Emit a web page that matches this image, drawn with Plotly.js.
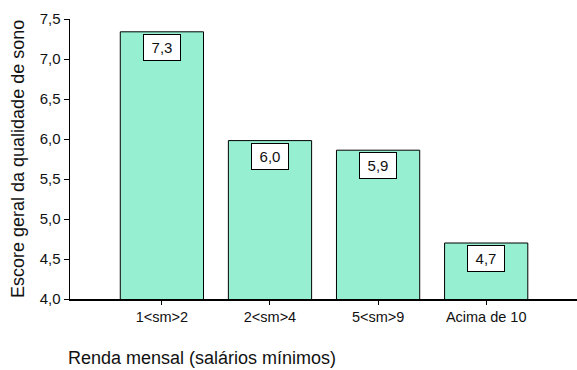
<!DOCTYPE html>
<html><head><meta charset="utf-8">
<script src="https://cdn.plot.ly/plotly-3.0.1.min.js"></script>
<style>html,body{margin:0;padding:0;background:#fff}#chart{width:577px;height:370px}</style>
</head><body><div id="chart"></div>
<script>
const categories = ['1<sm>2', '2<sm>4', '5<sm>9', 'Acima de 10'];
const values = [7.34, 5.98, 5.86, 4.70];
const labels = ['7,3', '6,0', '5,9', '4,7'];
const yTicks = [4.0, 4.5, 5.0, 5.5, 6.0, 6.5, 7.0, 7.5];
const yTickText = ['4,0', '4,5', '5,0', '5,5', '6,0', '6,5', '7,0', '7,5'];
const yTitle = 'Escore geral da qualidade de sono';
const xTitle = 'Renda mensal (salários mínimos)';

const font = 'Liberation Sans, Arial, sans-serif';
const trace = {
  type: 'bar', x: [0,1,2,3], y: values, base: 0,
  width: 0.77,
  marker: {color: '#95efd0', line: {color: '#000', width: 1}},
  hoverinfo: 'none'
};
const annotations = values.map((v, i) => ({
  x: i, y: v, xref: 'x', yref: 'y', text: labels[i], showarrow: false,
  yanchor: 'top', yshift: -2, width: 34, height: 23, borderpad: 1,
  bgcolor: '#fff', bordercolor: '#000', borderwidth: 1,
  font: {family: font, size: 15, color: '#111'}
}));
annotations.push({
  xref: 'paper', yref: 'paper', x: -52/507, y: 0.5, textangle: -90,
  text: yTitle, showarrow: false, xanchor: 'center', yanchor: 'middle',
  font: {family: font, size: 18, color: '#111'}
});
annotations.push({
  xref: 'paper', yref: 'paper', x: (202-70)/507, y: -(358-299)/280, text: xTitle,
  showarrow: false, xanchor: 'center', yanchor: 'middle',
  font: {family: font, size: 18, color: '#111'}
});
const layout = {
  width: 577, height: 370,
  margin: {l: 70, r: 0, t: 19, b: 71},
  paper_bgcolor: '#fff', plot_bgcolor: '#fff',
  showlegend: false,
  xaxis: {
    range: [-0.85, 3.84], tickvals: [0,1,2,3], ticktext: categories,
    showline: true, linecolor: '#000', linewidth: 1.5, showgrid: false, zeroline: false,
    ticks: 'outside', ticklen: 4, tickcolor: '#000',
    tickfont: {family: font, size: 14.5, color: '#111'}, fixedrange: true
  },
  yaxis: {
    range: [4.0, 7.5], tickvals: yTicks, ticktext: yTickText,
    showline: true, linecolor: '#000', linewidth: 1.5, showgrid: false, zeroline: false,
    ticks: 'outside', ticklen: 5, tickcolor: '#000',
    tickfont: {family: font, size: 15, color: '#111'}, fixedrange: true
  },
  annotations: annotations
};
Plotly.newPlot('chart', [trace], layout, {staticPlot: true, displayModeBar: false});
</script></body></html>
